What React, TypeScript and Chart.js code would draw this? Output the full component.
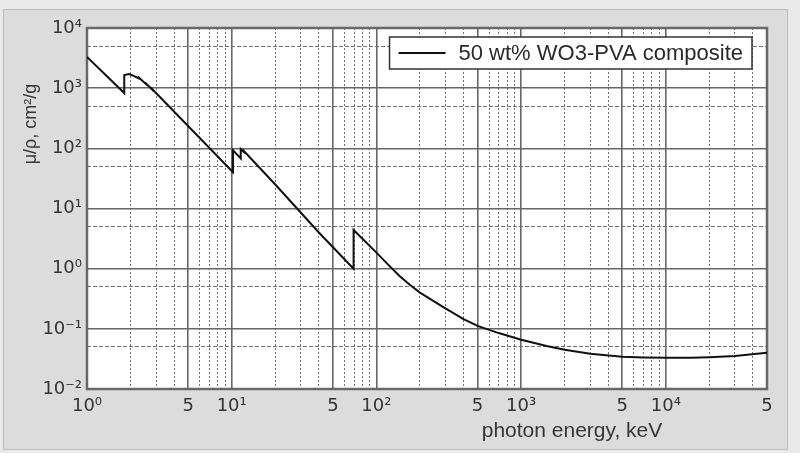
import React, { useEffect, useRef } from "react";
import { Chart, registerables } from "chart.js";

Chart.register(...registerables);

// ---- data (photon energy in keV, mass attenuation coefficient in cm²/g) ----
const energyKeV = [
  1, 1.809, 1.809, 1.95, 2.1, 2.281, 2.281, 2.575, 2.575, 2.82, 2.82,
  10.207, 10.207, 11.544, 11.544, 12.1, 12.1, 20, 40, 69.525, 69.525,
  100, 120, 145, 170, 200, 290, 400, 500, 700, 1000, 1500, 2000, 3000, 5000, 7000,
  10000, 15000, 20000, 30000, 50000,
];
const muRho = [
  3300, 830, 1650, 1720, 1600, 1450, 1500, 1150, 1180, 950, 970,
  40, 93, 68, 97, 87, 91, 25, 4.0, 1.0, 4.4,
  1.85, 1.18, 0.75, 0.54, 0.4, 0.23, 0.145, 0.112, 0.085, 0.066, 0.052, 0.045, 0.0385, 0.0345, 0.0335,
  0.033, 0.033, 0.0338, 0.0355, 0.04,
];
const seriesLabel = "50 wt% WO3-PVA composite";

const xLabelTicks = [1, 5, 10, 50, 100, 500, 1000, 5000, 10000, 50000];
const xLabelText = ["10⁰", "5", "10¹", "5", "10²", "5", "10³", "5", "10⁴", "5"];
const yLabelTicks = [0.01, 0.1, 1, 10, 100, 1000, 10000];
const yLabelText = ["10⁻²", "10⁻¹", "10⁰", "10¹", "10²", "10³", "10⁴"];
const yGridTicks = [0.01, 0.05, 0.1, 0.5, 1, 5, 10, 50, 100, 500, 1000, 5000, 10000];

const xTitle = "photon energy, keV";
const yTitle = "μ/ρ, cm²/g";

const FONT = "'Liberation Sans', Arial, Helvetica, sans-serif";
const TICK_FONT = "'DejaVu Sans', 'Liberation Sans', Arial, sans-serif";

function xGridTicks(): number[] {
  const out: number[] = [];
  for (let n = 0; n <= 4; n++) {
    for (let k = 1; k <= 9; k++) {
      const v = Number((k * Math.pow(10, n)).toPrecision(3));
      if (v <= 50000) out.push(v);
    }
  }
  return out;
}

function mantissa(v: number): number {
  const e = Math.floor(Math.log10(v) + 1e-9);
  return Math.round((v / Math.pow(10, e)) * 1000) / 1000;
}

function findLabel(v: number, ticks: number[], texts: string[]): string {
  const i = ticks.findIndex((t) => Math.abs(t - v) / t < 1e-6);
  return i >= 0 ? texts[i] : "";
}

export default function App() {
  const ref = useRef<HTMLCanvasElement | null>(null);

  useEffect(() => {
    if (!ref.current) return;

    const decorPlugin = {
      id: "decor",
      beforeDraw(chart: any) {
        const { ctx, chartArea: a } = chart;
        ctx.save();
        ctx.fillStyle = "#ffffff";
        ctx.fillRect(a.left, a.top, a.right - a.left, a.bottom - a.top);
        ctx.restore();
      },
      beforeDatasetsDraw(chart: any) {
        const { ctx, chartArea: a } = chart;
        ctx.save();
        ctx.strokeStyle = "#686868";
        ctx.lineWidth = 2.5;
        ctx.strokeRect(a.left, a.top, a.right - a.left, a.bottom - a.top);
        ctx.restore();
      },
      afterDraw(chart: any) {
        const { ctx, chartArea: a } = chart;
        ctx.save();
        // axis titles
        ctx.fillStyle = "#363636";
        ctx.font = `21px ${FONT}`;
        ctx.textAlign = "center";
        ctx.textBaseline = "middle";
        ctx.fillText(xTitle, 572, 431);
        ctx.save();
        ctx.translate(31, 124);
        ctx.rotate(-Math.PI / 2);
        ctx.font = `18px ${FONT}`;
        ctx.fillText(yTitle, 0, 0);
        ctx.restore();

        // legend
        ctx.font = `22px ${FONT}`;
        const tw = ctx.measureText(seriesLabel).width;
        const boxRight = a.right - 15;
        const boxLeft = boxRight - (tw + 78);
        const boxTop = a.top + 9;
        const boxH = 32;
        ctx.fillStyle = "#ffffff";
        ctx.fillRect(boxLeft, boxTop, boxRight - boxLeft, boxH);
        ctx.strokeStyle = "#333333";
        ctx.lineWidth = 1.5;
        ctx.strokeRect(boxLeft, boxTop, boxRight - boxLeft, boxH);
        ctx.strokeStyle = "#111111";
        ctx.lineWidth = 1.8;
        ctx.beginPath();
        ctx.moveTo(boxLeft + 9, boxTop + boxH / 2);
        ctx.lineTo(boxLeft + 56, boxTop + boxH / 2);
        ctx.stroke();
        ctx.fillStyle = "#2a2a2a";
        ctx.textAlign = "left";
        ctx.fillText(seriesLabel, boxLeft + 69, boxTop + boxH / 2 + 1);
        ctx.restore();
      },
    };

    const chart = new Chart(ref.current, {
      type: "line",
      data: {
        datasets: [
          {
            label: seriesLabel,
            data: energyKeV.map((e, i) => ({ x: e, y: muRho[i] })),
            borderColor: "#111111",
            borderWidth: 2,
            pointRadius: 0,
            tension: 0,
            fill: false,
          },
        ],
      },
      options: {
        animation: false,
        responsive: false,
        maintainAspectRatio: false,
        layout: { padding: { left: 0, right: 33, top: 28, bottom: 0 } },
        plugins: {
          legend: { display: false },
          tooltip: { enabled: false },
        },
        scales: {
          x: {
            type: "logarithmic",
            min: 1,
            max: 50000,
            afterBuildTicks: (s: any) => {
              s.ticks = xGridTicks().map((v) => ({ value: v }));
            },
            afterFit: (s: any) => {
              s.height = 64;
            },
            ticks: {
              autoSkip: false,
              maxRotation: 0,
              minRotation: 0,
              padding: 7,
              color: "#333333",
              font: { family: TICK_FONT, size: 18 },
              callback: (v: any) => findLabel(Number(v), xLabelTicks, xLabelText),
            },
            grid: {
              drawTicks: false,
              color: (c: any) => {
                if (!c.tick) return "#707070";
                const m = mantissa(c.tick.value);
                return m === 1 || m === 5 ? "#676767" : "#6f6f6f";
              },
              lineWidth: (c: any) => {
                if (!c.tick) return 1;
                const m = mantissa(c.tick.value);
                return m === 1 || m === 5 ? 1.6 : 1;
              },
            },
            border: {
              display: false,
              dash: (c: any) => {
                if (!c.tick) return [];
                const m = mantissa(c.tick.value);
                return m === 1 || m === 5 ? [] : [2, 2];
              },
            },
          },
          y: {
            type: "logarithmic",
            min: 0.01,
            max: 10000,
            afterBuildTicks: (s: any) => {
              s.ticks = yGridTicks.map((v) => ({ value: v }));
            },
            afterFit: (s: any) => {
              s.width = 87;
            },
            ticks: {
              autoSkip: false,
              padding: 5,
              color: "#333333",
              font: { family: TICK_FONT, size: 18 },
              callback: (v: any) => findLabel(Number(v), yLabelTicks, yLabelText),
            },
            grid: {
              drawTicks: false,
              color: (c: any) => {
                if (!c.tick) return "#707070";
                const m = mantissa(c.tick.value);
                return m === 1 ? "#676767" : "#6f6f6f";
              },
              lineWidth: (c: any) => {
                if (!c.tick) return 1;
                const m = mantissa(c.tick.value);
                return m === 1 ? 1.6 : 1;
              },
            },
            border: {
              display: false,
              dash: (c: any) => {
                if (!c.tick) return [];
                const m = mantissa(c.tick.value);
                return m === 1 ? [] : [4, 2];
              },
            },
          },
        },
      },
      plugins: [decorPlugin],
    } as any);

    return () => chart.destroy();
  }, []);

  return (
    <div
      style={{
        position: "fixed",
        left: 0,
        top: 0,
        width: 800,
        height: 453,
        background: "#e9e9e9",
        overflow: "hidden",
      }}
    >
      <div
        style={{
          position: "absolute",
          left: 3,
          top: 9,
          width: 783,
          height: 439,
          background: "#dcdcdc",
          border: "1px solid #bcbcbc",
        }}
      />
      <canvas
        ref={ref}
        width={800}
        height={453}
        style={{ position: "absolute", left: 0, top: 0, width: 800, height: 453 }}
      />
    </div>
  );
}
